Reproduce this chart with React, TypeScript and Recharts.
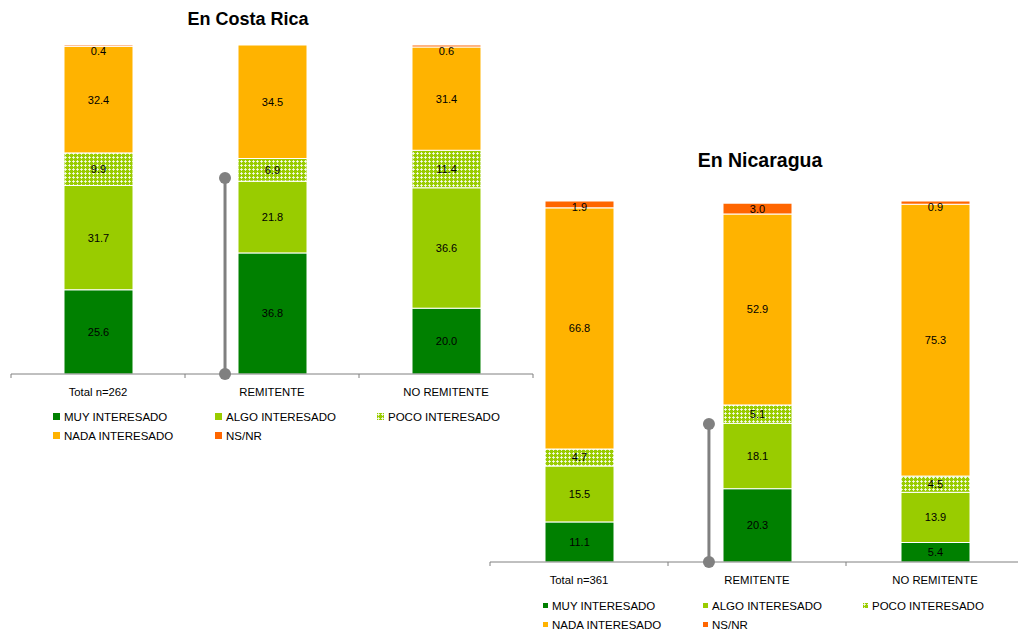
import React from "react";
import {
  BarChart,
  Bar,
  ScatterChart,
  Scatter,
  XAxis,
  YAxis,
  LabelList,
} from "recharts";

// two stacked 100% bar charts: interest level by group, Costa Rica vs Nicaragua

const crCategories = ["Total n=262", "REMITENTE", "NO REMITENTE"];
const crMuy = [25.6, 36.8, 20.0];
const crAlgo = [31.7, 21.8, 36.6];
const crPoco = [9.9, 6.9, 11.4];
const crNada = [32.4, 34.5, 31.4];
const crNsnr = [0.4, 0, 0.6];

const niCategories = ["Total n=361", "REMITENTE", "NO REMITENTE"];
const niMuy = [11.1, 20.3, 5.4];
const niAlgo = [15.5, 18.1, 13.9];
const niPoco = [4.7, 5.1, 4.5];
const niNada = [66.8, 52.9, 75.3];
const niNsnr = [1.9, 3.0, 0.9];

const seriesKeys = ["muy", "algo", "poco", "nada", "nsnr"];
const seriesNames = [
  "MUY INTERESADO",
  "ALGO INTERESADO",
  "POCO INTERESADO",
  "NADA INTERESADO",
  "NS/NR",
];

// axis positions: boundaries on integers, category names on the halves
const axisTicks = [0, 0.5, 1, 1.5, 2, 2.5, 3];

// gray marker line: position in axis units (category index, percent)
const crMarker = [
  { x: 1.23, y: 0 },
  { x: 1.23, y: 59.6 },
];
const niMarker = [
  { x: 1.23, y: 0 },
  { x: 1.23, y: 38.2 },
];

const FONT = "'Liberation Sans', Arial, sans-serif";
const GRAY = "#808080";

function seriesColor(key: string, patternId: string) {
  switch (key) {
    case "muy":
      return "#008000";
    case "algo":
      return "#99CC00";
    case "poco":
      return `url(#${patternId})`;
    case "nada":
      return "#FFB300";
    default:
      return "#FF6600";
  }
}

function buildRows(cats: string[], cols: number[][]) {
  return cats.map((name, i) => {
    const row: Record<string, any> = { name };
    seriesKeys.forEach((k, j) => (row[k] = cols[j][i]));
    return row;
  });
}

function PocoPattern({ id }: { id: string }) {
  return (
    <pattern id={id} width={4} height={4} patternUnits="userSpaceOnUse">
      <rect width={4} height={4} fill="#99CC00" />
      <rect x={1} y={0} width={1} height={3} fill="#fff" opacity={0.75} />
      <rect x={0} y={1} width={3} height={1} fill="#fff" opacity={0.75} />
    </pattern>
  );
}

// centred label, pushed inside the bar when the segment is thinner than the text
const renderValue = (props: any) => {
  const { x, y, width, height, value } = props;
  if (!value) return null;
  const cy = Math.max(y + height / 2, y + 6);
  return (
    <text
      x={x + width / 2}
      y={cy}
      textAnchor="middle"
      dominantBaseline="central"
      fontSize={11}
      fontFamily={FONT}
      fill="#000"
    >
      {Number(value).toFixed(1)}
    </text>
  );
};

// integer ticks draw a short boundary mark, half ticks draw the category name
function makeTick(categories: string[]) {
  return (props: any) => {
    const { x, y, payload } = props;
    const v = payload.value as number;
    if (Number.isInteger(v)) {
      return <line x1={x} x2={x} y1={y} y2={y + 4} stroke={GRAY} strokeWidth={1} />;
    }
    return (
      <text
        x={x}
        y={y + 18}
        textAnchor="middle"
        dominantBaseline="central"
        fontSize={11.3}
        fontFamily={FONT}
        fill="#000"
      >
        {categories[Math.floor(v)]}
      </text>
    );
  };
}

const markerDot = (props: any) => <circle cx={props.cx} cy={props.cy} r={6} fill={GRAY} />;

interface StackProps {
  id: string;
  categories: string[];
  rows: Record<string, any>[];
  width: number;
  height: number;
  margin: { top: number; left: number; right: number; bottom: number };
  marker: { x: number; y: number }[];
}

function StackChart({ id, categories, rows, width, height, margin, marker }: StackProps) {
  const pid = `poco-${id}`;
  return (
    <div style={{ position: "relative", width, height }}>
      <BarChart width={width} height={height} data={rows} margin={margin} barSize={69}>
        <defs>
          <PocoPattern id={pid} />
        </defs>
        <XAxis dataKey="name" height={30} tick={false} tickLine={false} axisLine={false} />
        <YAxis hide domain={[0, 100]} />
        {seriesKeys.map((k) => (
          <Bar
            key={k}
            dataKey={k}
            stackId="s"
            fill={seriesColor(k, pid)}
            stroke="#fff"
            strokeWidth={1}
            isAnimationActive={false}
          >
            <LabelList dataKey={k} content={renderValue} />
          </Bar>
        ))}
      </BarChart>
      {/* overlay on the same plot area: axis line, boundary ticks, names, marker */}
      <div style={{ position: "absolute", left: 0, top: 0 }}>
        <ScatterChart width={width} height={height} margin={margin}>
          <XAxis
            type="number"
            dataKey="x"
            domain={[0, 3]}
            allowDataOverflow
            ticks={axisTicks}
            interval={0}
            height={30}
            tickSize={0}
            tickMargin={0}
            tickLine={false}
            axisLine={{ stroke: GRAY }}
            tick={makeTick(categories)}
          />
          <YAxis hide type="number" dataKey="y" domain={[0, 100]} />
          <Scatter
            data={marker}
            line={{ stroke: GRAY, strokeWidth: 3 }}
            shape={markerDot}
            isAnimationActive={false}
          />
        </ScatterChart>
      </div>
    </div>
  );
}

function LegendIcon({ k, id, size }: { k: string; id: string; size: number }) {
  const pid = `leg-${id}`;
  return (
    <svg width={size} height={size} style={{ display: "block", marginRight: 4 }}>
      <defs>
        <PocoPattern id={pid} />
      </defs>
      <rect width={size} height={size} fill={seriesColor(k, pid)} />
    </svg>
  );
}

function LegendBlock({
  id,
  left,
  top,
  colWidth,
  rowHeight,
  icon,
}: {
  id: string;
  left: number;
  top: number;
  colWidth: number;
  rowHeight: number;
  icon: number;
}) {
  return (
    <div
      style={{
        position: "absolute",
        left,
        top,
        display: "grid",
        gridTemplateColumns: `repeat(3, ${colWidth}px)`,
        gridAutoRows: rowHeight,
        fontFamily: FONT,
        fontSize: 11.5,
        color: "#000",
      }}
    >
      {seriesKeys.map((k, i) => (
        <div key={k} style={{ display: "flex", alignItems: "center", whiteSpace: "nowrap" }}>
          <LegendIcon k={k} id={`${id}-${k}`} size={icon} />
          {seriesNames[i]}
        </div>
      ))}
    </div>
  );
}

export default function App() {
  const crRows = buildRows(crCategories, [crMuy, crAlgo, crPoco, crNada, crNsnr]);
  const niRows = buildRows(niCategories, [niMuy, niAlgo, niPoco, niNada, niNsnr]);

  const titleStyle: React.CSSProperties = {
    position: "absolute",
    width: 240,
    textAlign: "center",
    fontFamily: FONT,
    fontWeight: "bold",
    fontSize: 18,
  };

  return (
    <div
      style={{
        position: "absolute",
        left: 0,
        top: 0,
        width: 1018,
        height: 633,
        overflow: "hidden",
        background: "#fff",
      }}
    >
      <div style={{ ...titleStyle, left: 128, top: 9 }}>En Costa Rica</div>
      <div style={{ ...titleStyle, left: 640, top: 149, fontSize: 19.5 }}>En Nicaragua</div>

      <div style={{ position: "absolute", left: 0, top: 0 }}>
        <StackChart
          id="cr"
          categories={crCategories}
          rows={crRows}
          width={545}
          height={404}
          margin={{ top: 45, left: 11, right: 12, bottom: 0 }}
          marker={crMarker}
        />
      </div>
      <div style={{ position: "absolute", left: 480, top: 160 }}>
        <StackChart
          id="ni"
          categories={niCategories}
          rows={niRows}
          width={560}
          height={432}
          margin={{ top: 41, left: 10, right: 16, bottom: 0 }}
          marker={niMarker}
        />
      </div>

      <LegendBlock id="crl" left={53} top={407} colWidth={162} rowHeight={19} icon={7} />
      <LegendBlock id="nil" left={543} top={596} colWidth={160} rowHeight={19} icon={5} />
    </div>
  );
}
